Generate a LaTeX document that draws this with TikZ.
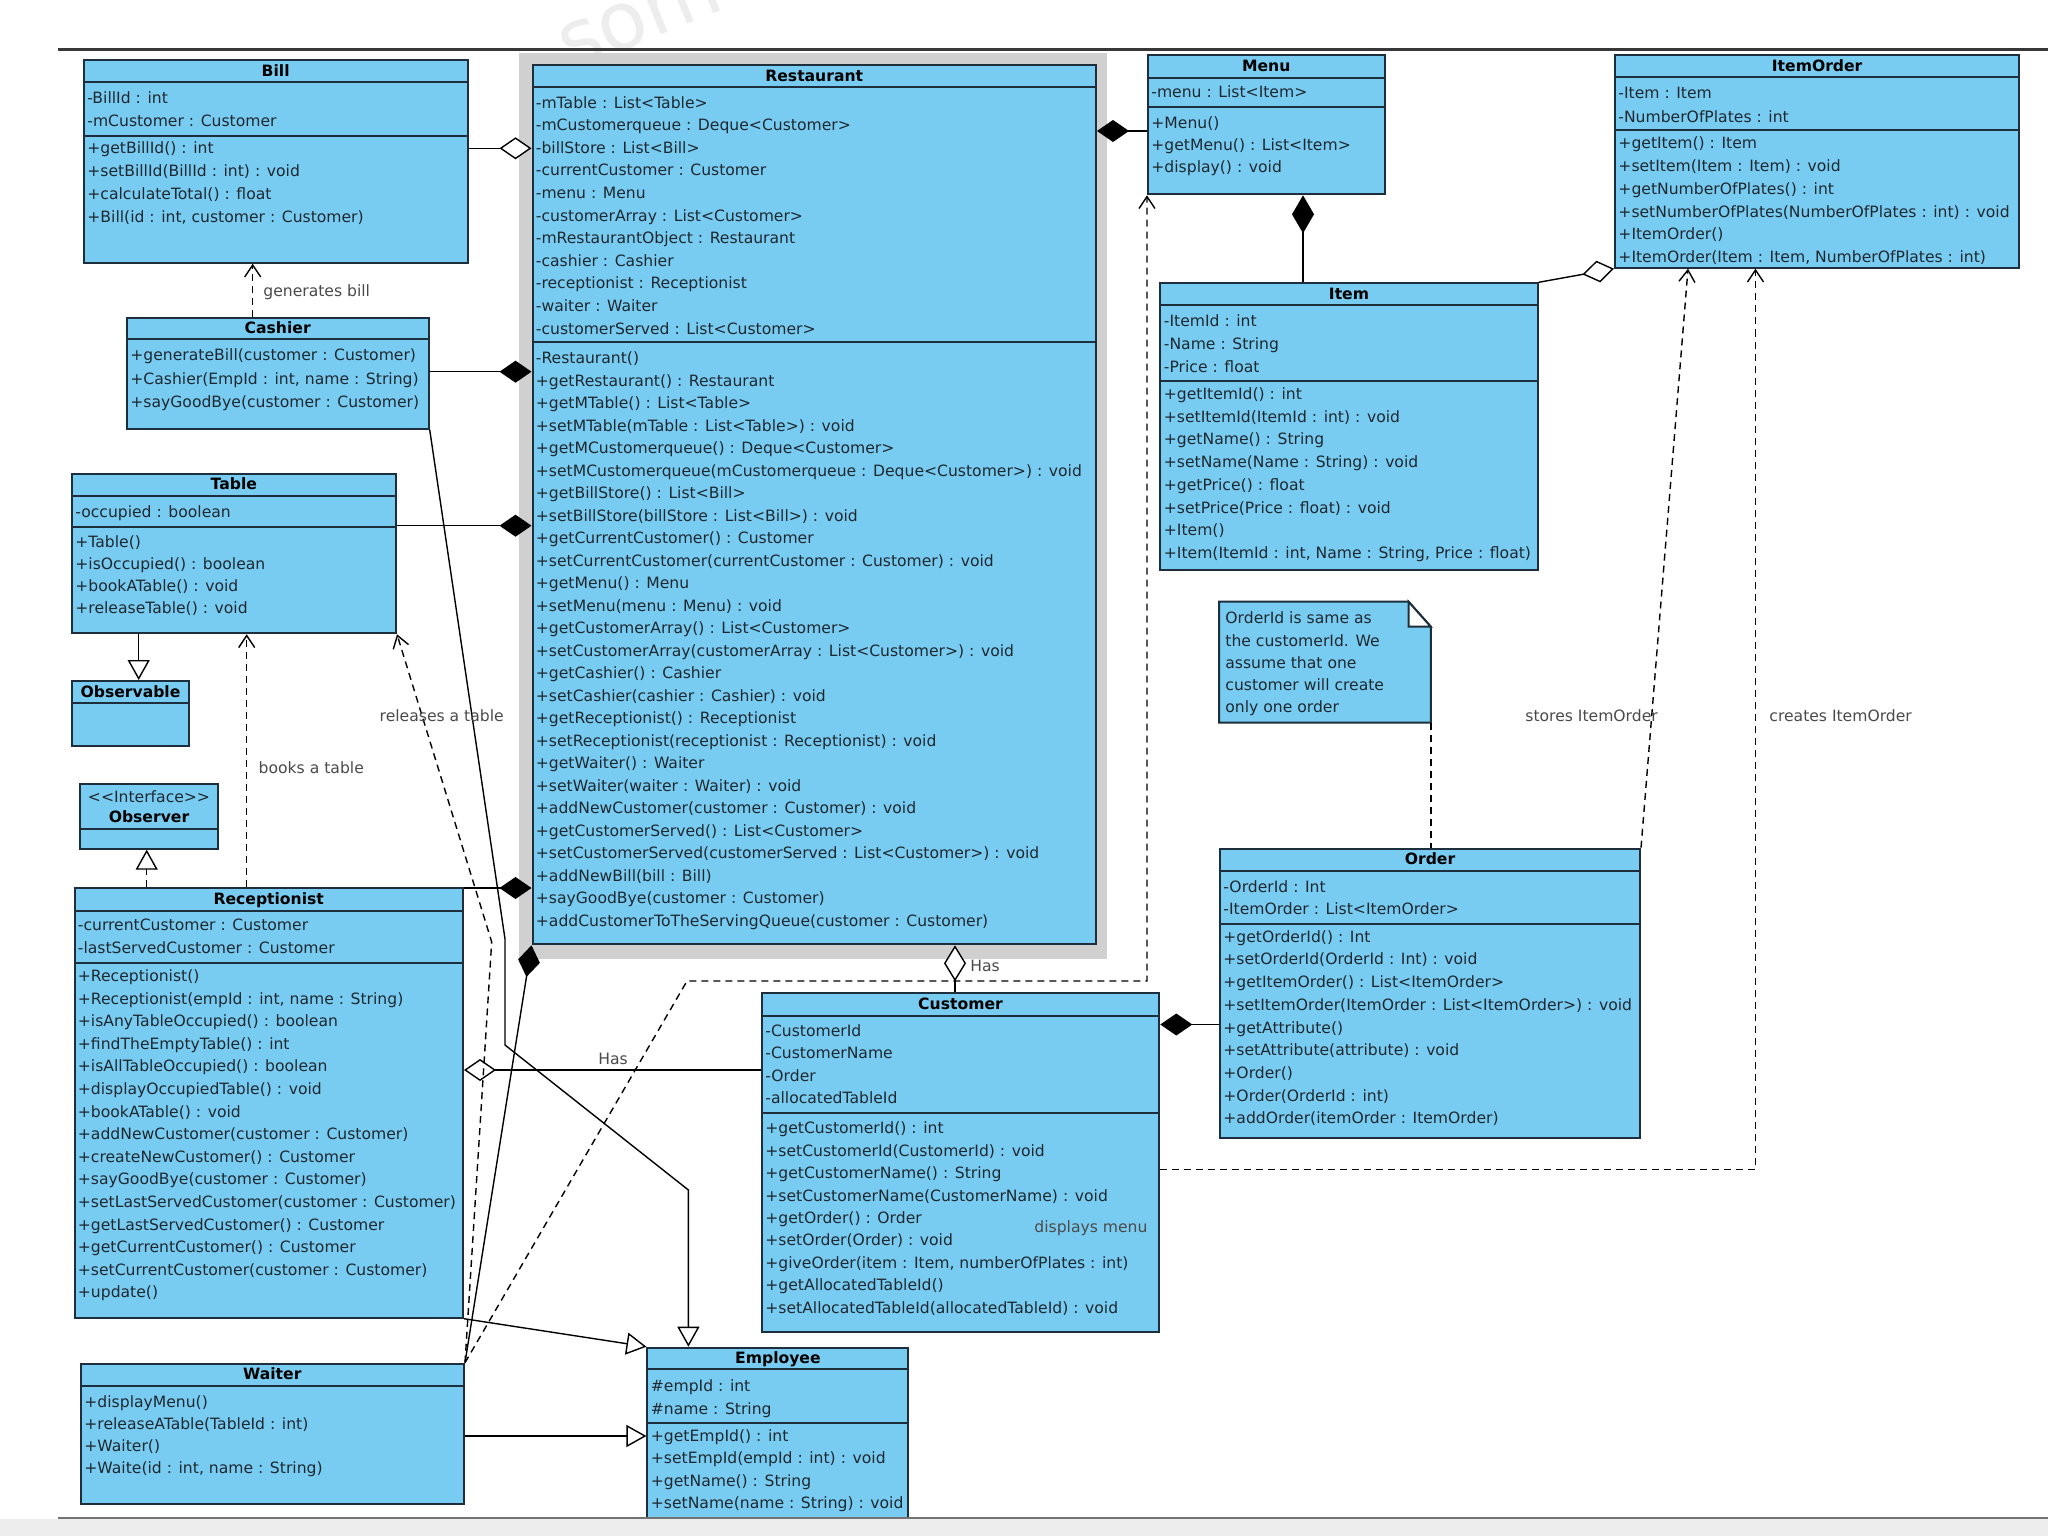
\documentclass[tikz,border=0pt]{standalone}
\usepackage{fontspec}
\setmainfont{DejaVu Sans}
\usetikzlibrary{arrows.meta}
\definecolor{clsfill}{HTML}{79CCF1}
\definecolor{bordc}{HTML}{1D2F3C}
\definecolor{txtc}{HTML}{1E2830}
\definecolor{lblc}{HTML}{4A4A4A}
\definecolor{framec}{HTML}{D0D0D0}
\newcommand\umlfont{\fontsize{7.8pt}{9.4pt}\selectfont}
\newcommand\umlbox[5]{\node[cls, minimum width={(#4-(#2))*0.5pt}, minimum height={(#5-(#3))*0.5pt}, anchor=north west] (#1) at (#2,#3) {};}
\newcommand\umlsep[2]{\draw[sepl] (#1.west |- 0,#2) -- (#1.east |- 0,#2);}
\newcommand\umltitle[3]{\node[ttl] (#1-title) at (#1.north |- 0,{#2+5.5}) {#3};}
\newcommand\umlrows[5]{\foreach \rt [count=\ri from 0] in {#5} {\node[row] (#1-\ri) at (#2,{#3+5.5+\ri*#4}) {\rt};}}
\tikzset{
 cls/.style={rectangle, draw=bordc, fill=clsfill, line width=1pt, inner sep=0pt},
 sepl/.style={draw=bordc, line width=1pt},
 row/.style={anchor=base west, inner sep=0pt, text=txtc, font=\umlfont},
 ttl/.style={anchor=base, inner sep=0pt, text=black, font=\umlfont\bfseries},
 lbl/.style={inner sep=0pt, text=lblc, font=\umlfont},
 con/.style={draw=black, line width=0.7pt},
 comp/.style={con, -{Diamond[length=16pt,width=11pt]}},
 aggr/.style={con, -{Diamond[fill=white,length=16pt,width=11pt]}},
 gen/.style={con, -{Triangle[fill=white,length=10pt,width=11pt]}},
 real/.style={gen, dash pattern=on 3.5pt off 2.5pt},
 dep/.style={con, dash pattern=on 3.5pt off 2.5pt, -{Straight Barb[length=6pt,width=8pt]}},
 notelink/.style={con, dash pattern=on 3.5pt off 2.5pt},
}
\begin{document}
\begin{tikzpicture}[x=0.5pt,y=-0.5pt]
\useasboundingbox (0,0) rectangle (2048,1535);
\fill[white] (0,0) rectangle (2048,1535);
\node[text=black!7, font=\fontsize{40pt}{40pt}\selectfont, rotate=22, inner sep=0pt] (wm) at (640,20) {som};
\draw[line width=1.5pt, draw=black!78] (58,50) -- (2048,50);
\fill[framec] (519,53) rectangle (1107,959);

% Bill
\umlbox{bill}{82.7}{59}{466.7}{261.7}
\umlsep{bill}{82.3}\umlsep{bill}{135.7}
\umltitle{bill}{70.7}{Bill}
\umlrows{bill-a}{87}{98}{23}{{-BillId : int},{-mCustomer : Customer}}
\umlrows{bill-m}{87}{148}{23}{{+getBillId() : int},{+setBillId(BillId : int) : void},{+calculateTotal() : float},{+Bill(id : int, customer : Customer)}}

% Cashier
\umlbox{cashier}{125.7}{316.7}{427.7}{427.7}
\umlsep{cashier}{339}
\umltitle{cashier}{327.8}{Cashier}
\umlrows{cashier-m}{130}{355}{23.5}{{+generateBill(customer : Customer)},{+Cashier(EmpId : int, name : String)},{+sayGoodBye(customer : Customer)}}

% Restaurant
\umlbox{restaurant}{531.5}{64}{1095}{943.3}
\umlsep{restaurant}{87.3}\umlsep{restaurant}{342}
\umltitle{restaurant}{75.7}{Restaurant}
\umlrows{rest-a}{535.5}{102.7}{22.6}{{-mTable : List<Table>},{-mCustomerqueue : Deque<Customer>},{-billStore : List<Bill>},{-currentCustomer : Customer},{-menu : Menu},{-customerArray : List<Customer>},{-mRestaurantObject : Restaurant},{-cashier : Cashier},{-receptionist : Receptionist},{-waiter : Waiter},{-customerServed : List<Customer>}}
\umlrows{rest-m}{535.5}{358.3}{22.5}{{-Restaurant()},{+getRestaurant() : Restaurant},{+getMTable() : List<Table>},{+setMTable(mTable : List<Table>) : void},{+getMCustomerqueue() : Deque<Customer>},{+setMCustomerqueue(mCustomerqueue : Deque<Customer>) : void},{+getBillStore() : List<Bill>},{+setBillStore(billStore : List<Bill>) : void},{+getCurrentCustomer() : Customer},{+setCurrentCustomer(currentCustomer : Customer) : void},{+getMenu() : Menu},{+setMenu(menu : Menu) : void},{+getCustomerArray() : List<Customer>},{+setCustomerArray(customerArray : List<Customer>) : void},{+getCashier() : Cashier},{+setCashier(cashier : Cashier) : void},{+getReceptionist() : Receptionist},{+setReceptionist(receptionist : Receptionist) : void},{+getWaiter() : Waiter},{+setWaiter(waiter : Waiter) : void},{+addNewCustomer(customer : Customer) : void},{+getCustomerServed() : List<Customer>},{+setCustomerServed(customerServed : List<Customer>) : void},{+addNewBill(bill : Bill)},{+sayGoodBye(customer : Customer)},{+addCustomerToTheServingQueue(customer : Customer)}}

% Menu
\umlbox{menu}{1147}{54}{1383.5}{193.3}
\umlsep{menu}{77.7}\umlsep{menu}{106.7}
\umltitle{menu}{65.8}{Menu}
\umlrows{menu-a}{1151}{92.5}{22}{{-menu : List<Item>}}
\umlrows{menu-m}{1151}{123.3}{21.7}{{+Menu()},{+getMenu() : List<Item>},{+display() : void}}

% ItemOrder
\umlbox{itemorder}{1614}{54}{2018.3}{266.7}
\umlsep{itemorder}{77.3}\umlsep{itemorder}{130}
\umltitle{itemorder}{65.7}{ItemOrder}
\umlrows{io-a}{1618}{93.3}{23.3}{{-Item : Item},{-NumberOfPlates : int}}
\umlrows{io-m}{1618}{143.3}{22.8}{{+getItem() : Item},{+setItem(Item : Item) : void},{+getNumberOfPlates() : int},{+setNumberOfPlates(NumberOfPlates : int) : void},{+ItemOrder()},{+ItemOrder(Item : Item, NumberOfPlates : int)}}

% Item
\umlbox{item}{1159.3}{282.3}{1536.7}{569.3}
\umlsep{item}{305}\umlsep{item}{381}
\umltitle{item}{293.7}{Item}
\umlrows{item-a}{1163.5}{320.7}{23}{{-ItemId : int},{-Name : String},{-Price : float}}
\umlrows{item-m}{1163.5}{394}{22.7}{{+getItemId() : int},{+setItemId(ItemId : int) : void},{+getName() : String},{+setName(Name : String) : void},{+getPrice() : float},{+setPrice(Price : float) : void},{+Item()},{+Item(ItemId : int, Name : String, Price : float)}}

% Table
\umlbox{table}{70.7}{472.7}{395}{632.3}
\umlsep{table}{496}\umlsep{table}{526.7}
\umltitle{table}{484.3}{Table}
\umlrows{table-a}{75}{511.7}{22}{{-occupied : boolean}}
\umlrows{table-m}{75}{541.7}{22}{{+Table()},{+isOccupied() : boolean},{+bookATable() : void},{+releaseTable() : void}}

% Observable
\umlbox{observable}{70.7}{680}{188.3}{745}
\umlsep{observable}{703.3}
\umltitle{observable}{691.6}{Observable}

% Observer
\umlbox{observer}{79.3}{782.7}{216.7}{847.7}
\umlsep{observer}{829.3}
\node[row, anchor=base] (observer-st) at (observer.north |- 0,802.8) {<{}<Interface>{}>};
\node[ttl] (observer-title) at (observer.north |- 0,822.8) {Observer};

% Receptionist
\umlbox{receptionist}{73.5}{886.7}{462}{1316.7}
\umlsep{receptionist}{910.7}\umlsep{receptionist}{962.7}
\umltitle{receptionist}{898.7}{Receptionist}
\umlrows{rec-a}{77.5}{925}{23.3}{{-currentCustomer : Customer},{-lastServedCustomer : Customer}}
\umlrows{rec-m}{77.5}{976}{22.6}{{+Receptionist()},{+Receptionist(empId : int, name : String)},{+isAnyTableOccupied() : boolean},{+findTheEmptyTable() : int},{+isAllTableOccupied() : boolean},{+displayOccupiedTable() : void},{+bookATable() : void},{+addNewCustomer(customer : Customer)},{+createNewCustomer() : Customer},{+sayGoodBye(customer : Customer)},{+setLastServedCustomer(customer : Customer)},{+getLastServedCustomer() : Customer},{+getCurrentCustomer() : Customer},{+setCurrentCustomer(customer : Customer)},{+update()}}

% Customer
\umlbox{customer}{760.7}{992.3}{1158.3}{1330.7}
\umlsep{customer}{1016}\umlsep{customer}{1112.7}
\umltitle{customer}{1004.2}{Customer}
\umlrows{cust-a}{765}{1030.7}{22.5}{{-CustomerId},{-CustomerName},{-Order},{-allocatedTableId}}
\umlrows{cust-m}{765}{1128.3}{22.4}{{+getCustomerId() : int},{+setCustomerId(CustomerId) : void},{+getCustomerName() : String},{+setCustomerName(CustomerName) : void},{+getOrder() : Order},{+setOrder(Order) : void},{+giveOrder(item : Item, numberOfPlates : int)},{+getAllocatedTableId()},{+setAllocatedTableId(allocatedTableId) : void}}

% Order
\umlbox{order}{1219}{847.7}{1639}{1137.3}
\umlsep{order}{871}\umlsep{order}{923.7}
\umltitle{order}{859.3}{Order}
\umlrows{order-a}{1223}{886.7}{22.6}{{-OrderId : Int},{-ItemOrder : List<ItemOrder>}}
\umlrows{order-m}{1223}{936.7}{22.7}{{+getOrderId() : Int},{+setOrderId(OrderId : Int) : void},{+getItemOrder() : List<ItemOrder>},{+setItemOrder(ItemOrder : List<ItemOrder>) : void},{+getAttribute()},{+setAttribute(attribute) : void},{+Order()},{+Order(OrderId : int)},{+addOrder(itemOrder : ItemOrder)}}

% Waiter
\umlbox{waiter}{79.6}{1362.7}{463}{1502.7}
\umlsep{waiter}{1386}
\umltitle{waiter}{1374.3}{Waiter}
\umlrows{waiter-m}{84}{1401.7}{22.2}{{+displayMenu()},{+releaseATable(TableId : int)},{+Waiter()},{+Waite(id : int, name : String)}}

% Employee
\umlbox{employee}{646.4}{1346.7}{907.4}{1620}
\umlsep{employee}{1369.3}\umlsep{employee}{1422.7}
\umltitle{employee}{1358}{Employee}
\umlrows{emp-a}{650.5}{1386}{22.7}{{\#empId : int},{\#name : String}}
\umlrows{emp-m}{650.5}{1436}{22.4}{{+getEmpId() : int},{+setEmpId(empId : int) : void},{+getName() : String},{+setName(name : String) : void}}

% Note
\node[inner sep=0pt, minimum width=105.5pt, minimum height=60pt, anchor=north west] (note) at (1219,601.7) {};
\filldraw[fill=clsfill, draw=bordc, line width=1pt] (note.north west) -- ([xshift=-11.15pt]note.north east) -- ([yshift=-12.5pt]note.north east) -- (note.south east) -- (note.south west) -- cycle;
\filldraw[fill=white, draw=bordc, line width=1pt] ([xshift=-11.15pt]note.north east) -- ([xshift=-11.15pt,yshift=-12.5pt]note.north east) -- ([yshift=-12.5pt]note.north east) -- cycle;
\umlrows{note-t}{1225}{618.3}{22.2}{{OrderId is same as},{the customerId. We},{assume that one},{customer will create},{only one order}}

% named bend points
\coordinate (relbend) at (491.7,942);
\coordinate (dispbend) at (687,981);
\coordinate (cb1) at (505,939);
\coordinate (cb2) at (505,1045);
\coordinate (cb3) at (688.4,1190);

% connectors
\draw[aggr] (bill.east |- 0,148.3) -- (restaurant.west |- 0,148.3);
\draw[comp] (cashier.east |- 0,371.7) -- (restaurant.west |- 0,371.7);
\draw[comp] (table.east |- 0,525.7) -- (restaurant.west |- 0,525.7);
\draw[comp] (receptionist.east |- 0,888) -- (restaurant.west |- 0,888);
\draw[comp] (waiter.north east) -- (restaurant.south west);
\draw[comp] (menu.west |- 0,131) -- (restaurant.east |- 0,131);
\draw[con, -{Diamond[length=19pt,width=11pt]}] (1303,0 |- item.north) -- (1303,0 |- menu.south);
\draw[aggr] (item.north east) -- (itemorder.south west);
\draw[notelink] (note.south east) -- (note.south east |- order.north);
\draw[dep] (order.north east) -- (1688,0 |- itemorder.south);
\draw[dep] (customer.east |- 0,1169.3) -| (1755.5,0 |- itemorder.south);
\draw[comp] (order.west |- 0,1024.5) -- (customer.east |- 0,1024.5);
\draw[con, -{Diamond[fill=white,length=18pt,width=11pt]}] (955,0 |- customer.north) -- (955,0 |- restaurant.south);
\draw[aggr] (customer.west |- 0,1070) -- (receptionist.east |- 0,1070);
\draw[dep] (252.7,0 |- cashier.north) -- (252.7,0 |- bill.south);
\draw[dep] (246.7,0 |- receptionist.north) -- (246.7,0 |- table.south);
\draw[dep] (waiter.north east) -- (relbend) -- (table.south east);
\draw[dep] (waiter.north east) -- (dispbend) -| (menu.south west);
\draw[gen] (138.7,0 |- table.south) -- (138.7,0 |- observable.north);
\draw[real] (146.7,0 |- receptionist.north) -- (146.7,0 |- observer.south);
\draw[gen] (cashier.south east) -- (cb1) -- (cb2) -- (cb3) -- (cb3 |- employee.north);
\draw[gen] (receptionist.south east) -- (employee.north west);
\draw[gen] (waiter.east |- 0,1436) -- (employee.west |- 0,1436);

% labels
\node[lbl, anchor=base west] (l-gen) at (263,296.2) {generates bill};
\node[lbl, anchor=base west] (l-books) at (258.3,773.8) {books a table};
\node[lbl, anchor=base] (l-rel) at (441.7,721.5) {releases a table};
\node[lbl, anchor=base] (l-has1) at (613,1064.5) {Has};
\node[lbl, anchor=base west] (l-has2) at (970,971.5) {Has};
\node[lbl, anchor=base west] (l-stores) at (1525,721.5) {stores ItemOrder};
\node[lbl, anchor=base west] (l-creates) at (1769,721.5) {creates ItemOrder};
\node[lbl, anchor=base west] (l-disp) at (1034,1232) {displays menu};

% bottom band
\fill[black!7] (0,1519) rectangle (2048,1560);
\draw[line width=1pt, draw=black!55] (58,1518) -- (2048,1518);
\end{tikzpicture}
\end{document}
